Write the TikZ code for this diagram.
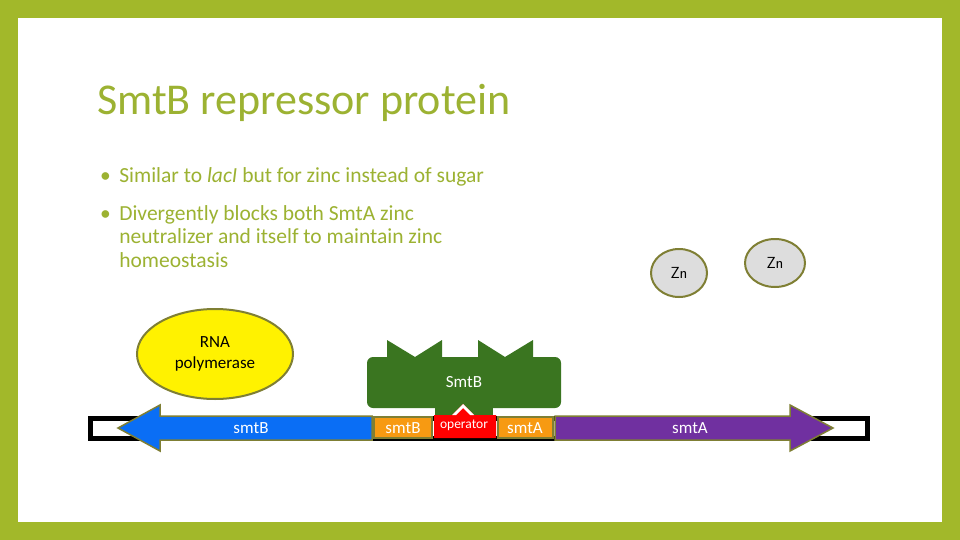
\documentclass[tikz,border=0pt]{standalone}
\usepackage{fontspec}
\setmainfont{Carlito}
\usetikzlibrary{shapes.geometric}
\begin{document}
\begin{tikzpicture}[x=1pt,y=-1pt,
  olive/.style={draw=oliveb,line width=2pt},
  zn/.style={ellipse,olive,fill=zngray,inner sep=0pt,font=\fontsize{16}{16}\selectfont\sffamily},
  gene/.style={olive,line width=1.5pt},
  lbl/.style={font=\fontsize{17}{17}\selectfont,inner sep=0pt},
  bul/.style={anchor=north west,inner sep=0pt,text=titlegreen,font=\fontsize{21.5}{23.5}\selectfont,align=left}]
\definecolor{bg}{HTML}{A2B82A}
\definecolor{titlegreen}{HTML}{9CB232}
\definecolor{oliveb}{HTML}{7F7F34}
\definecolor{zngray}{HTML}{DDDDDD}
\definecolor{prot}{HTML}{3A7520}
\definecolor{orng}{HTML}{F79A12}
\definecolor{blu}{HTML}{0A6EF5}
\definecolor{purp}{HTML}{7030A0}
\useasboundingbox (0,0) rectangle (960,540);
\fill[bg] (0,0) rectangle (960,540);
\fill[white] (18,18) rectangle (942,522);
\node[anchor=base west,inner sep=0pt,text=titlegreen,font=\fontsize{44}{44}\selectfont] (title) at (97,115) {SmtB repressor protein};
\node[bul] (b1) at (100,167) {\textbullet\ \,Similar to \textit{lacI} but for zinc instead of sugar};
\node[bul] (b2) at (100,205) {\textbullet\ \,Divergently blocks both SmtA zinc\\\phantom{\textbullet\ \,}neutralizer and itself to maintain zinc\\\phantom{\textbullet\ \,}homeostasis};
\node[zn,minimum width=56,minimum height=48] (zn1) at (679,273) {Zn};
\node[zn,minimum width=60,minimum height=48] (zn2) at (775,263) {Zn};
\node[ellipse,olive,fill=yellow,minimum width=156,minimum height=90,align=center,font=\fontsize{17}{21}\selectfont] (rna) at (215,354) {RNA\\polymerase};
% DNA
\draw[line width=5pt,fill=white] (90,418) rectangle (867,438);
% protein
\fill[prot,rounded corners=6pt] (367,357) rectangle (561,408);
\fill[prot] (387,358) -- (387,340) -- (415,357) -- (442,340) -- (442,358) -- cycle;
\fill[prot] (478,358) -- (478,340) -- (505,357) -- (533,340) -- (533,358) -- cycle;
\fill[prot] (435,400) rectangle (493,416);
\node[lbl,text=white] (smtbp) at (464,382) {SmtB};
% genes
\draw[gene,fill=blu] (372,416) -- (160,416) -- (160,405) -- (118,428) -- (160,451) -- (160,440) -- (372,440) -- cycle;
\node[lbl,text=white] (g1) at (251,428) {smtB};
\draw[gene,fill=orng] (374,417) rectangle (432,438);
\node[lbl,text=white] (g2) at (403,428) {smtB};
\fill[red] (434,415) -- (452,415) -- (463,404) -- (474,415) -- (496,415) -- (496,438) -- (434,438) -- cycle;
\fill[white] (452,415) -- (463,404) -- (474,415) -- (470,415) -- (463,408) -- (456,415) -- cycle;
\node[font=\fontsize{13.5}{13.5}\selectfont,inner sep=0pt,text=white] (op) at (464,425) {operator};
\draw[gene,fill=orng] (498,417) rectangle (553,438);
\node[lbl,text=white] (g3) at (525,428) {smtA};
\draw[gene,fill=purp] (555,416) -- (790,416) -- (790,405) -- (833,428) -- (790,451) -- (790,440) -- (555,440) -- cycle;
\node[lbl,text=white] (g4) at (690,428) {smtA};
\end{tikzpicture}
\end{document}
